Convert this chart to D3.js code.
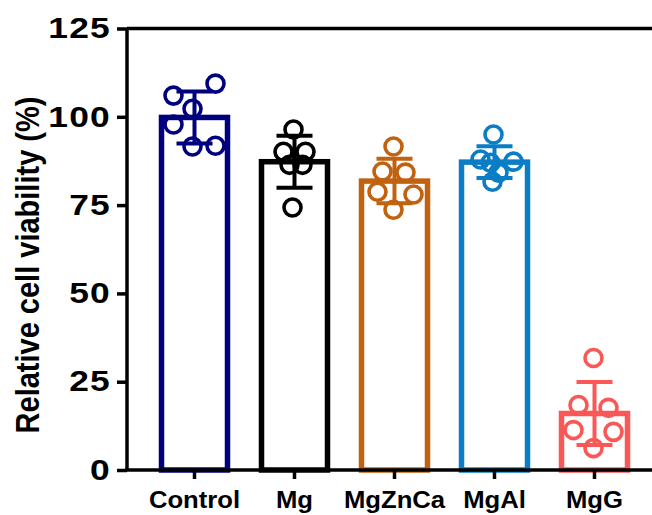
<!DOCTYPE html>
<html>
<head>
<meta charset="utf-8">
<script src="https://cdn.jsdelivr.net/npm/d3@7"></script>
<style>
  html, body { margin: 0; padding: 0; background: #fff; }
  svg { display: block; }
  text { font-family: "Liberation Sans", Arial, sans-serif; font-weight: bold; }
</style>
</head>
<body>
<div id="chart"></div>
<script>
// ---- data ----
const categories = ["Control", "Mg", "MgZnCa", "MgAl", "MgG"];
const controlValues = [106, 109.4, 102.3, 97.8, 91.6, 91.8];
const mgValues = [96.4, 90.1, 90.1, 86.4, 86.4, 74.3];
const mgZnCaValues = [91.6, 84.5, 84.2, 78.8, 78.0, 73.7];
const mgAlValues = [95.0, 87.9, 87.0, 87.3, 84.2, 81.6];
const mgGValues = [31.7, 18.4, 17.6, 11.3, 10.8, 6.2];
const yTicks = [0, 25, 50, 75, 100, 125];
const yLabel = "Relative cell viability (%)";

// ---- layout / style (not data) ----
const seriesValues = [controlValues, mgValues, mgZnCaValues, mgAlValues, mgGValues];
const colors = ["#00007f", "#000000", "#c0620f", "#0a7dc6", "#fa5757"];
const jitter = [
  [-21, 21, -2, -21, -2, 21],
  [-1, -11, 11, -5, 8, -2],
  [-1, -12, 11, -17, 19, -1],
  [-1, -14, -4, 19, 4, -2],
  [-1, -16, 14, -21, 19, -1]
];

const W = 652, H = 515;
const svg = d3.select("#chart").append("svg").attr("width", W).attr("height", H);

const x = d3.scaleBand().domain(categories).range([144.5, 644.5]).paddingInner(0).paddingOuter(0);
const y = d3.scaleLinear().domain([0, 125]).range([470, 28.5]);
const barW = 66;
const axisX = 127;

// bars
categories.forEach((c, i) => {
  const vals = seriesValues[i];
  const m = d3.mean(vals);
  const cx = x(c) + x.bandwidth() / 2;
  svg.append("rect")
    .attr("x", cx - barW / 2)
    .attr("y", y(m))
    .attr("width", barW)
    .attr("height", y(0) - y(m))
    .attr("fill", "none")
    .attr("stroke", colors[i])
    .attr("stroke-width", 5.5)
    .attr("stroke-linejoin", "miter");
});

// points
categories.forEach((c, i) => {
  const vals = seriesValues[i];
  const cx = x(c) + x.bandwidth() / 2;
  svg.append("g").selectAll("circle").data(vals).join("circle")
    .attr("cx", (d, j) => cx + jitter[i][j])
    .attr("cy", d => y(d))
    .attr("r", 8.5)
    .attr("fill", "none")
    .attr("stroke", colors[i])
    .attr("stroke-width", 3.6);
});

// error bars (mean ± SD)
categories.forEach((c, i) => {
  const vals = seriesValues[i];
  const m = d3.mean(vals), sd = d3.deviation(vals);
  const cx = x(c) + x.bandwidth() / 2;
  const g = svg.append("g").attr("stroke", colors[i]).attr("stroke-width", 4);
  g.append("line").attr("x1", cx).attr("x2", cx).attr("y1", y(m + sd)).attr("y2", y(m - sd));
  g.append("line").attr("x1", cx - 18).attr("x2", cx + 18).attr("y1", y(m + sd)).attr("y2", y(m + sd));
  g.append("line").attr("x1", cx - 18).attr("x2", cx + 18).attr("y1", y(m - sd)).attr("y2", y(m - sd));
});

// top frame line
svg.append("line").attr("x1", axisX).attr("x2", W).attr("y1", y(125)).attr("y2", y(125))
  .attr("stroke", "#000").attr("stroke-width", 3.5);

// y axis
const ySX = 1.22;
const yAxis = svg.append("g").attr("transform", `translate(${axisX},0)`)
  .call(d3.axisLeft(y).tickValues(yTicks).tickSize(10).tickPadding(6).tickFormat(d3.format("d")));
yAxis.select(".domain").attr("stroke-width", 3.5).attr("d", `M0,${y(125)}V${y(0)}`);
yAxis.selectAll(".tick line").attr("stroke-width", 3.5);
yAxis.selectAll(".tick text")
  .attr("font-size", 29).attr("fill", "#000")
  .attr("x", -16 / ySX)
  .attr("transform", `scale(${ySX},1)`)
  .style("letter-spacing", "1px")
  .style("font-family", "'Liberation Sans', Arial, sans-serif").style("font-weight", "bold");

// x axis
const xSX = 1.07;
const xAxis = svg.append("g").attr("transform", `translate(0,${y(0)})`)
  .call(d3.axisBottom(x).tickSize(9).tickPadding(12));
xAxis.select(".domain").attr("stroke-width", 3.5).attr("d", `M${axisX - 1.75},0H${W}`);
xAxis.selectAll(".tick line").attr("stroke-width", 3.5);
xAxis.selectAll(".tick text").attr("font-size", 24).attr("fill", "#000")
  .attr("transform", `scale(${xSX},1)`)
  .style("font-family", "'Liberation Sans', Arial, sans-serif").style("font-weight", "bold");

// y label
svg.append("text")
  .attr("transform", `translate(39,265) rotate(-90) scale(1,1.15)`)
  .attr("text-anchor", "middle")
  .attr("font-size", 29)
  .attr("fill", "#000")
  .text(yLabel);
</script>
</body>
</html>
